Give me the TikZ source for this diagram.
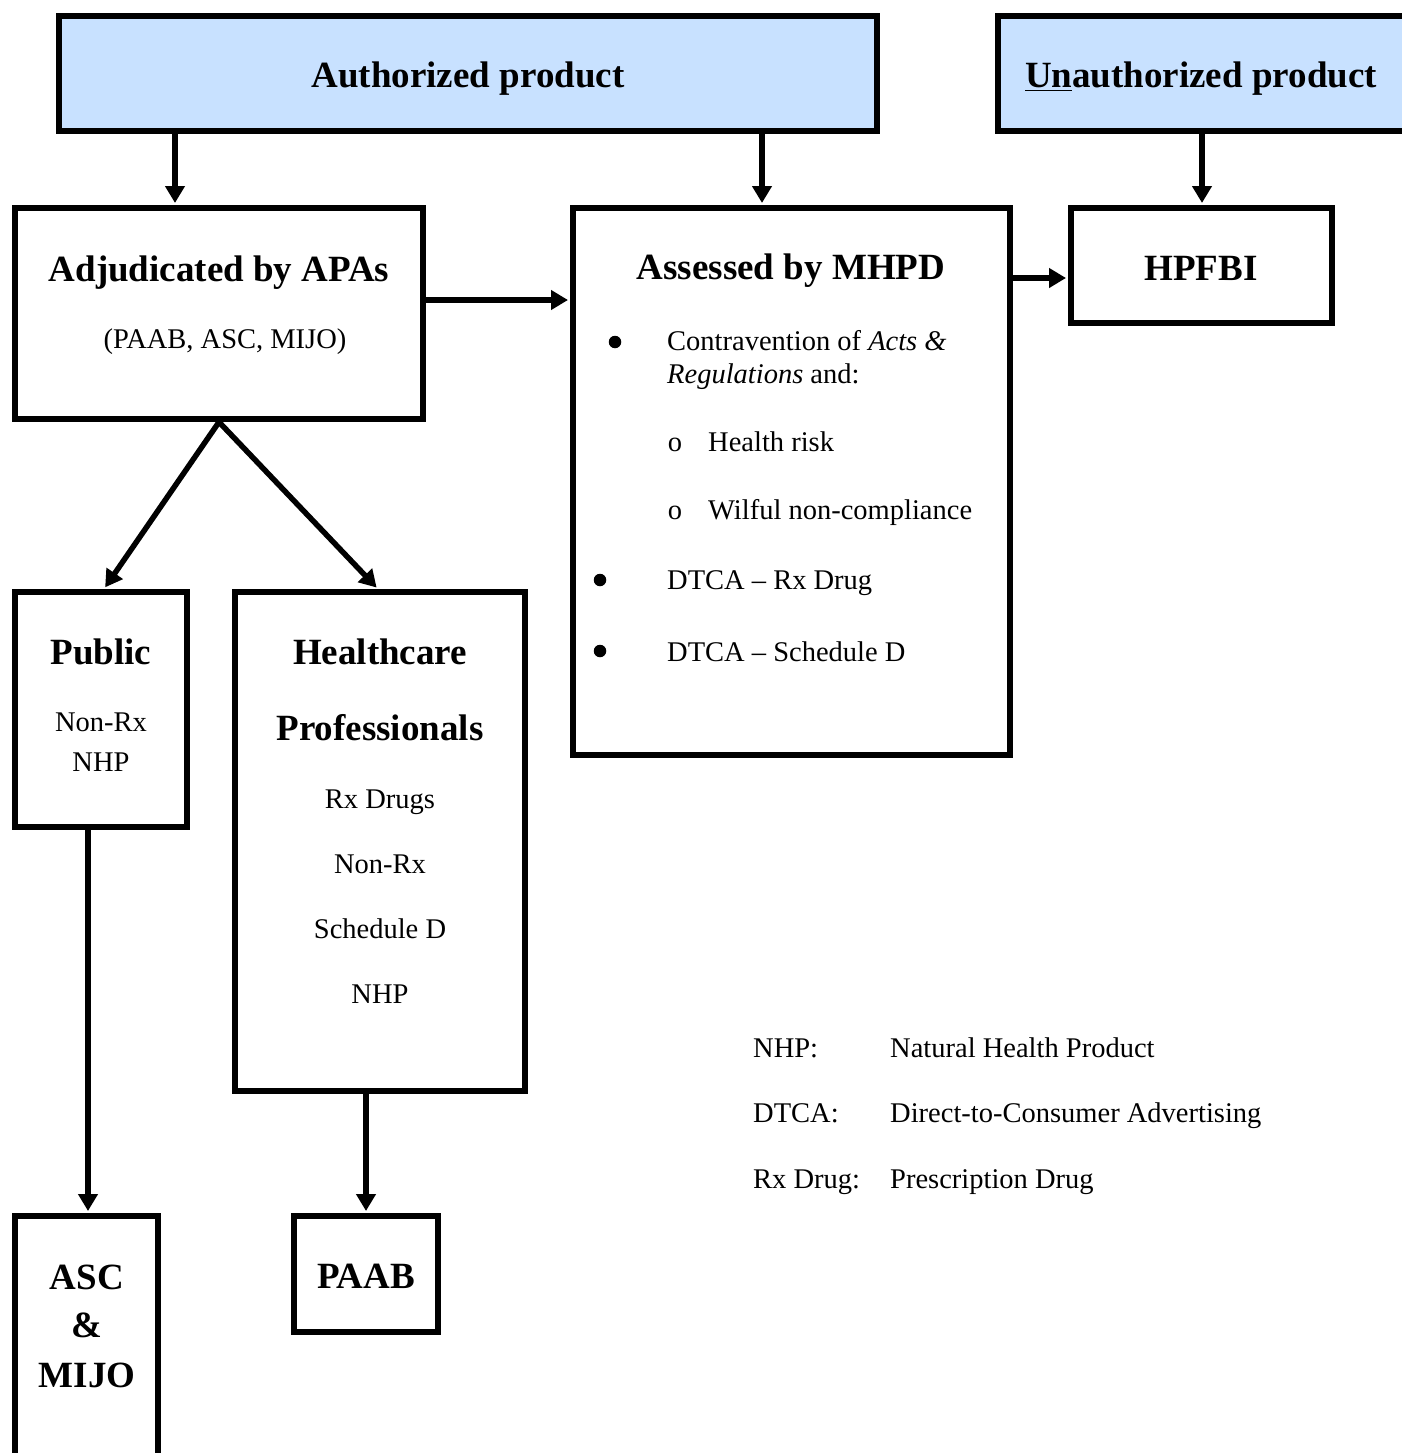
\documentclass[tikz,border=0pt]{standalone}
\usepackage{fontspec}
\setmainfont{Liberation Serif}
\usetikzlibrary{arrows.meta}
\definecolor{prodblue}{RGB}{200,225,255}
\begin{document}
\begin{tikzpicture}[x=1pt,y=-1pt,
  box/.style={draw=black,line width=6pt,rectangle,inner sep=0pt,anchor=center},
  prod/.style={box,fill=prodblue},
  arr/.style={line width=5.5pt,-{Triangle[length=17pt,width=19pt]},shorten >=2pt},
  btitle/.style={font=\fontsize{37}{40}\selectfont\bfseries,inner sep=0pt,anchor=base},
  rtext/.style={font=\fontsize{28.5}{32}\selectfont,inner sep=0pt,anchor=base},
  ltext/.style={font=\fontsize{28.5}{32}\selectfont,inner sep=0pt,anchor=base west},
  bul/.style={font=\fontsize{28.5}{32}\selectfont,inner sep=0pt,anchor=base},
  dot/.style={circle,fill=black,inner sep=0pt,minimum size=12.5pt}
]
\useasboundingbox (0,0) rectangle (1402,1453);
\clip (0,0) rectangle (1402,1453);

% boxes
\node[prod,minimum width=818pt,minimum height=115pt] (auth) at (468,73.5) {};
\node[prod,minimum width=442pt,minimum height=115pt] (unauth) at (1219,73.5) {};
\node[box,minimum width=408pt,minimum height=211pt] (adj) at (219,313.5) {};
\node[box,minimum width=437pt,minimum height=547pt] (mhpd) at (791.5,481.5) {};
\node[box,minimum width=261pt,minimum height=115pt] (hpfbi) at (1201.5,265.5) {};
\node[box,minimum width=172pt,minimum height=235pt] (pub) at (101,709.5) {};
\node[box,minimum width=290pt,minimum height=499pt] (hc) at (380,841.5) {};
\node[box,minimum width=143pt,minimum height=284pt] (asc) at (86.5,1358) {};
\node[box,minimum width=144pt,minimum height=116pt] (paab) at (366,1274) {};

% texts
\node[btitle] (tauth) at (468,88) {Authorized product};
\node[btitle] (tunauth) at (1201,88) {\underline{Un}authorized product};
\node[btitle] (tadj) at (219,281) {Adjudicated by APAs};
\node[rtext] (tadj2) at (225,348) {(PAAB, ASC, MIJO)};
\node[btitle] (tmhpd) at (791,279) {Assessed by MHPD};
\node[btitle] (thpf) at (1201,280) {HPFBI};
\node[btitle] (tpub) at (101,664) {Public};
\node[rtext] (tpub1) at (101,731) {Non-Rx};
\node[rtext] (tpub2) at (101,771) {NHP};
\node[btitle] (thc1) at (380,664) {Healthcare};
\node[btitle] (thc2) at (380,740) {Professionals};
\node[rtext] (thc3) at (380,808) {Rx Drugs};
\node[rtext] (thc4) at (380,873) {Non-Rx};
\node[rtext] (thc5) at (380,938) {Schedule D};
\node[rtext] (thc6) at (380,1003) {NHP};
\node[btitle] (tasc1) at (87,1289) {ASC};
\node[btitle] (tasc2) at (87,1337) {\&};
\node[btitle] (tasc3) at (87,1387) {MIJO};
\node[btitle] (tpaab) at (366,1288) {PAAB};

% bullet list
\node[dot] (b1) at (615,342) {};
\node[ltext] (l1) at (667,350) {Contravention of \textit{Acts \&}};
\node[ltext] (l2) at (667,383) {\textit{Regulations} and:};
\node[bul] (b2) at (675,451) {o};
\node[ltext] (l3) at (708,451) {Health risk};
\node[bul] (b3) at (675,519) {o};
\node[ltext] (l4) at (708,519) {Wilful non-compliance};
\node[dot] (b4) at (600,580) {};
\node[ltext] (l5) at (667,589) {DTCA – Rx Drug};
\node[dot] (b5) at (600,651) {};
\node[ltext] (l6) at (667,661) {DTCA – Schedule D};

% legend
\node[ltext] (g1) at (753,1057) {NHP:};
\node[ltext] (g1b) at (890,1057) {Natural Health Product};
\node[ltext] (g2) at (753,1122) {DTCA:};
\node[ltext] (g2b) at (890,1122) {Direct-to-Consumer Advertising};
\node[ltext] (g3) at (753,1188) {Rx Drug:};
\node[ltext] (g3b) at (890,1188) {Prescription Drug};

% arrows
\draw[arr] (175,0 |- auth.south) -- (175,0 |- adj.north);
\draw[arr] (762,0 |- auth.south) -- (762,0 |- mhpd.north);
\draw[arr] (1202,0 |- unauth.south) -- (1202,0 |- hpfbi.north);
\draw[arr] (adj.east |- 0,300) -- (mhpd.west |- 0,300);
\draw[arr] (mhpd.east |- 0,278) -- (hpfbi.west |- 0,278);
\draw[arr] (adj.south) -- (104,0 |- pub.north);
\draw[arr] (adj.south) -- (378,0 |- hc.north);
\draw[arr] (88,0 |- pub.south) -- (88,0 |- asc.north);
\draw[arr] (366,0 |- hc.south) -- (366,0 |- paab.north);
\end{tikzpicture}
\end{document}
